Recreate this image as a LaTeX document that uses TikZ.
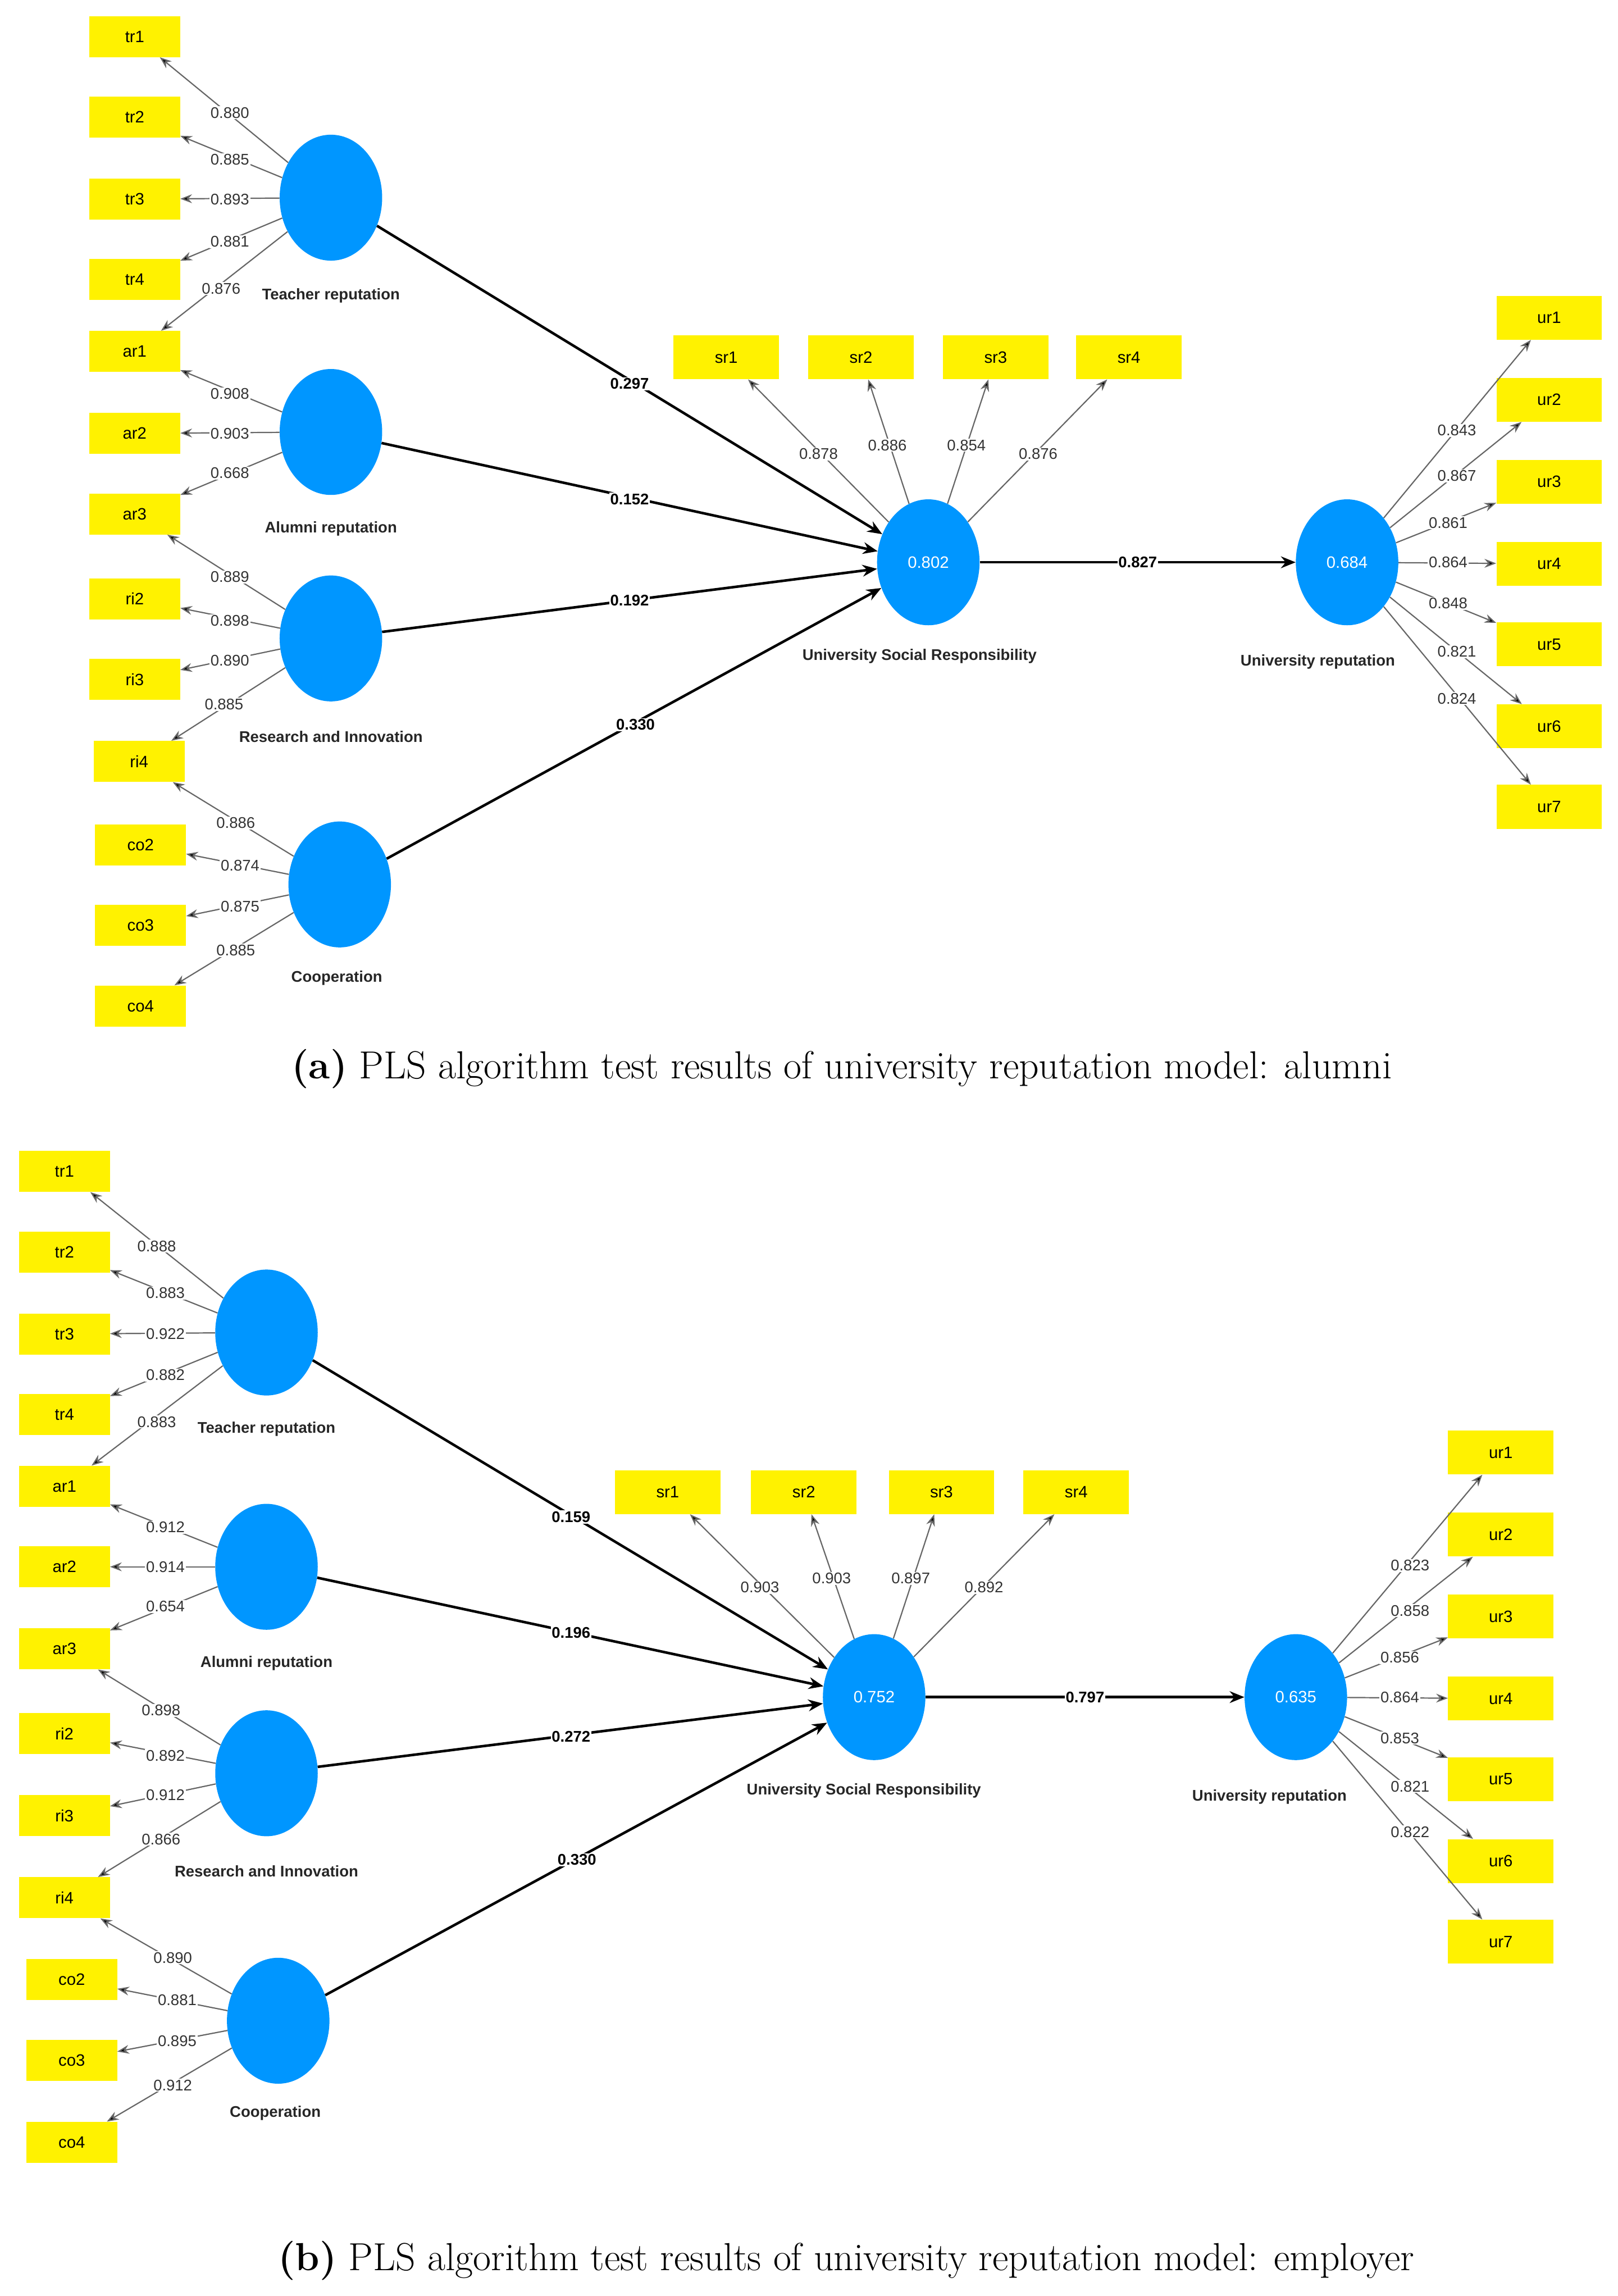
\documentclass[tikz,border=0pt]{standalone}
\usepackage{fontspec}
\newfontfamily\pls{Liberation Sans}
\usetikzlibrary{arrows.meta,shapes.geometric}
\begin{document}
\begin{tikzpicture}[x=0.5mm,y=-0.5mm,
 ibox/.style={fill=yellow,minimum width=31mm,minimum height=14mm,inner sep=0pt,font=\pls\fontsize{16}{16}\selectfont},
 obox/.style={fill=yellow,minimum width=36mm,minimum height=15mm,inner sep=0pt,font=\pls\fontsize{16}{16}\selectfont},
 ld/.style={line width=1.2pt,draw=gray!80!black,-{Stealth[length=4mm,width=3mm,fill=black]}},
 pa/.style={line width=2.5pt,-{Stealth[length=5mm,width=4mm]}},
 num/.style={fill=white,inner sep=1pt,font=\pls\fontsize{15}{15}\selectfont,text=gray!40!black},
 pnum/.style={fill=white,inner sep=1pt,font=\pls\bfseries\fontsize{15}{15}\selectfont},
 cl/.style={font=\pls\bfseries\fontsize{15}{15}\selectfont,text=gray!30!black},
 captxt/.style={font=\fontsize{38}{38}\selectfont}]
\definecolor{plsblue}{RGB}{0,150,255}
\tikzset{lv/.style={ellipse,fill=plsblue,minimum width=35mm,minimum height=43mm,inner sep=0pt,text=white,font=\pls\fontsize{16}{16}\selectfont}}
\fill[white] (0,0) rectangle (1105,1568);
% ---------------- panel a
\foreach \n/\x/\y in {tr1/92/25,tr2/92/80,tr3/92/136,tr4/92/191,ar1/92/240,ar2/92/296,ar3/92/351,ri2/92/409,ri3/92/464,ri4/95/520,co2/96/577,co3/96/632,co4/96/687}
  \node[ibox] (a\n) at (\x,\y) {\n};
\foreach \n/\x in {sr1/496,sr2/588,sr3/680,sr4/771} \node[obox] (a\n) at (\x,244) {\n};
\foreach \n/\y in {ur1/217,ur2/273,ur3/329,ur4/385,ur5/440,ur6/496,ur7/551} \node[obox] (a\n) at (1058,\y) {\n};
\node[lv] (aT) at (226,135) {};
\node[lv] (aA) at (226,295) {};
\node[lv] (aR) at (226,436) {};
\node[lv] (aC) at (232,604) {};
\node[lv] (aS) at (634,384) {0.802};
\node[lv] (aU) at (920,384) {0.684};
\node[cl] at (226,202) {Teacher reputation};
\node[cl] at (226,361) {Alumni reputation};
\node[cl] at (226,503) {Research and Innovation};
\node[cl] at (230,668) {Cooperation};
\node[cl] at (628,448) {University Social Responsibility};
\node[cl] at (900,452) {University reputation};
\foreach \c/\b/\v/\lx/\ly in {aT/atr1/0.880/157/77,aT/atr2/0.885/157/109,aT/atr3/0.893/157/136,aT/atr4/0.881/157/165,aT/aar1/0.876/151/197,
 aA/aar1/0.908/157/269,aA/aar2/0.903/157/296,aA/aar3/0.668/157/323,
 aR/aar3/0.889/157/394,aR/ari2/0.898/157/424,aR/ari3/0.890/157/451,aR/ari4/0.885/153/481,
 aC/ari4/0.886/161/562,aC/aco2/0.874/164/591,aC/aco3/0.875/164/619,aC/aco4/0.885/161/649,
 aS/asr1/0.878/559/310,aS/asr2/0.886/606/304,aS/asr3/0.854/660/304,aS/asr4/0.876/709/310,
 aU/aur1/0.843/995/294,aU/aur2/0.867/995/325,aU/aur3/0.861/989/357,aU/aur4/0.864/989/384,aU/aur5/0.848/989/412,aU/aur6/0.821/995/445,aU/aur7/0.824/995/477}
 {\draw[ld] (\c) -- (\b); \node[num] at (\lx,\ly) {\v};}
\draw[pa] (aT) -- (aS); \node[pnum] at (430,262) {0.297};
\draw[pa] (aA) -- (aS); \node[pnum] at (430,341) {0.152};
\draw[pa] (aR) -- (aS); \node[pnum] at (430,410) {0.192};
\draw[pa] (aC) -- (aS); \node[pnum] at (434,495) {0.330};
\draw[pa] (aS) -- (aU); \node[pnum] at (777,384) {0.827};
\node[captxt] at (575,730) {\textbf{(a)} PLS algorithm test results of university reputation model: alumni};
% ---------------- panel b
\foreach \n/\x/\y in {tr1/44/800,tr2/44/855,tr3/44/911,tr4/44/966,ar1/44/1015,ar2/44/1070,ar3/44/1126,ri2/44/1184,ri3/44/1240,ri4/44/1296,co2/49/1352,co3/49/1407,co4/49/1463}
  \node[ibox] (b\n) at (\x,\y) {\n};
\foreach \n/\x in {sr1/456,sr2/549,sr3/643,sr4/735} \node[obox] (b\n) at (\x,1019) {\n};
\foreach \n/\y in {ur1/992,ur2/1048,ur3/1104,ur4/1160,ur5/1215,ur6/1271,ur7/1326} \node[obox] (b\n) at (1025,\y) {\n};
\node[lv] (bT) at (182,910) {};
\node[lv] (bA) at (182,1070) {};
\node[lv] (bR) at (182,1211) {};
\node[lv] (bC) at (190,1380) {};
\node[lv] (bS) at (597,1159) {0.752};
\node[lv] (bU) at (885,1159) {0.635};
\node[cl] at (182,976) {Teacher reputation};
\node[cl] at (182,1136) {Alumni reputation};
\node[cl] at (182,1278) {Research and Innovation};
\node[cl] at (188,1443) {Cooperation};
\node[cl] at (590,1223) {University Social Responsibility};
\node[cl] at (867,1227) {University reputation};
\foreach \c/\b/\v/\lx/\ly in {bT/btr1/0.888/107/851,bT/btr2/0.883/113/883,bT/btr3/0.922/113/911,bT/btr4/0.882/113/939,bT/bar1/0.883/107/971,
 bA/bar1/0.912/113/1043,bA/bar2/0.914/113/1070,bA/bar3/0.654/113/1097,
 bR/bar3/0.898/110/1168,bR/bri2/0.892/113/1199,bR/bri3/0.912/113/1226,bR/bri4/0.866/110/1256,
 bC/bri4/0.890/118/1337,bC/bco2/0.881/121/1366,bC/bco3/0.895/121/1394,bC/bco4/0.912/118/1424,
 bS/bsr1/0.903/519/1084,bS/bsr2/0.903/568/1078,bS/bsr3/0.897/622/1078,bS/bsr4/0.892/672/1084,
 bU/bur1/0.823/963/1069,bU/bur2/0.858/963/1100,bU/bur3/0.856/956/1132,bU/bur4/0.864/956/1159,bU/bur5/0.853/956/1187,bU/bur6/0.821/963/1220,bU/bur7/0.822/963/1251}
 {\draw[ld] (\c) -- (\b); \node[num] at (\lx,\ly) {\v};}
\draw[pa] (bT) -- (bS); \node[pnum] at (390,1036) {0.159};
\draw[pa] (bA) -- (bS); \node[pnum] at (390,1115) {0.196};
\draw[pa] (bR) -- (bS); \node[pnum] at (390,1186) {0.272};
\draw[pa] (bC) -- (bS); \node[pnum] at (394,1270) {0.330};
\draw[pa] (bS) -- (bU); \node[pnum] at (741,1159) {0.797};
\node[captxt] at (578,1544) {\textbf{(b)} PLS algorithm test results of university reputation model: employer};
\useasboundingbox (0,0) rectangle (1105,1568);
\end{tikzpicture}
\end{document}
